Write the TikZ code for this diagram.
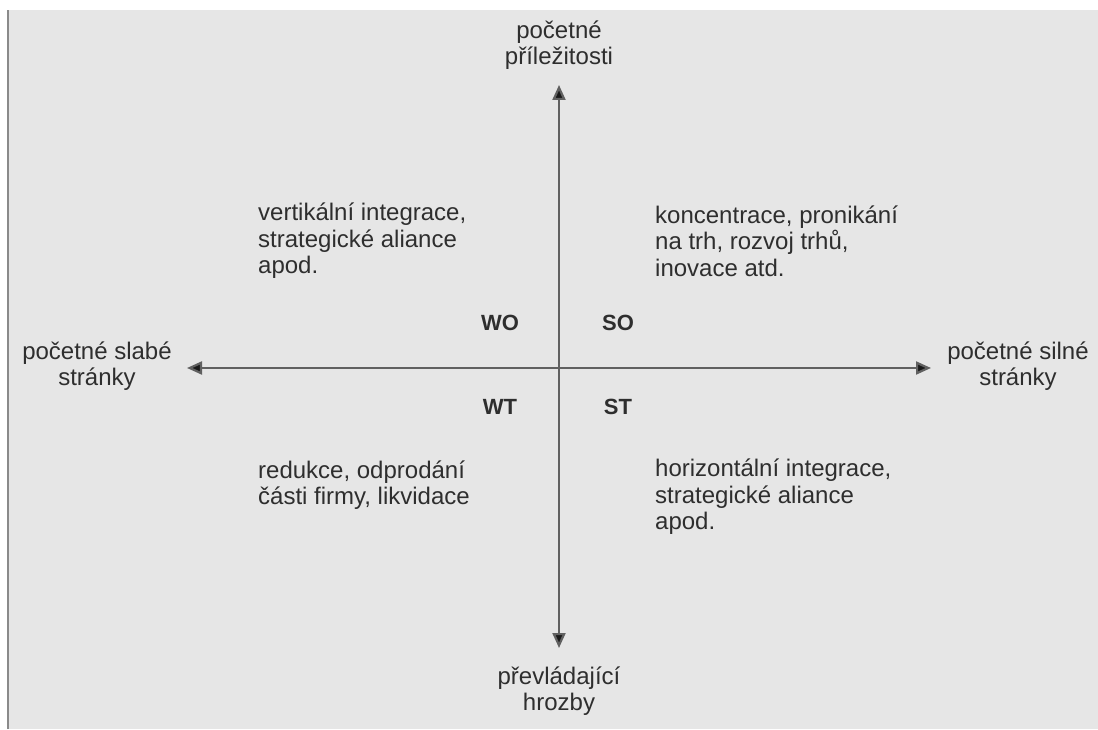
\documentclass[tikz,border=0pt]{standalone}
\usepackage{fontspec}
\setmainfont{Liberation Sans}
\usetikzlibrary{arrows.meta}
\definecolor{panel}{HTML}{E6E6E6}
\definecolor{axisgray}{HTML}{606060}
\definecolor{edge}{HTML}{8A8A8A}
\definecolor{ink}{HTML}{2E2E2E}
\tikzset{
  axis/.style={draw=axisgray, line width=2.2pt, -{Triangle[length=15pt,width=13pt,fill=black!90]}},
  poletext/.style={align=center, font=\fontsize{24}{26.5}\selectfont, text=ink, inner sep=0pt},
  quadtext/.style={align=left, anchor=west, font=\fontsize{24}{26.5}\selectfont, text=ink, inner sep=0pt},
  code/.style={font=\fontsize{22}{24}\selectfont\bfseries, text=ink, inner sep=0pt}
}
\begin{document}
\begin{tikzpicture}[x=1pt,y=1pt]
  % canvas with light panel and left rule
  \useasboundingbox (0,0) rectangle (1098,729);
  \fill[white] (0,0) rectangle (1098,729);
  \fill[panel] (8,0) rectangle (1098,719);
  \draw[edge, line width=2pt] (8,0) -- (8,719);

  % centre and axis end points
  \coordinate (o) at (559,361);
  \coordinate (top) at (559,644);
  \coordinate (bottom) at (559,81);
  \coordinate (left) at (187,361);
  \coordinate (right) at (931,361);

  \draw[axis] (o) -- (top);
  \draw[axis] (o) -- (bottom);
  \draw[axis] (o) -- (left);
  \draw[axis] (o) -- (right);

  % pole labels
  \node[poletext] (n) at (559,684) {početné\\příležitosti};
  \node[poletext] (s) at (559,38) {převládající\\hrozby};
  \node[poletext] (w) at (97,363) {početné slabé\\stránky};
  \node[poletext] (e) at (1018,363) {početné silné\\stránky};

  % quadrant strategies
  \node[quadtext] (wo) at (258,488) {vertikální integrace,\\strategické aliance\\apod.};
  \node[quadtext] (so) at (655,488) {koncentrace, pronikání\\na trh, rozvoj trhů,\\inovace atd.};
  \node[quadtext] (wt) at (258,244) {redukce, odprodání\\části firmy, likvidace};
  \node[quadtext] (st) at (655,232) {horizontální integrace,\\strategické aliance\\apod.};

  % quadrant codes
  \node[code] (cwo) at (500,406) {WO};
  \node[code] (cso) at (618,406) {SO};
  \node[code] (cwt) at (500,322) {WT};
  \node[code] (cst) at (618,322) {ST};
\end{tikzpicture}
\end{document}
